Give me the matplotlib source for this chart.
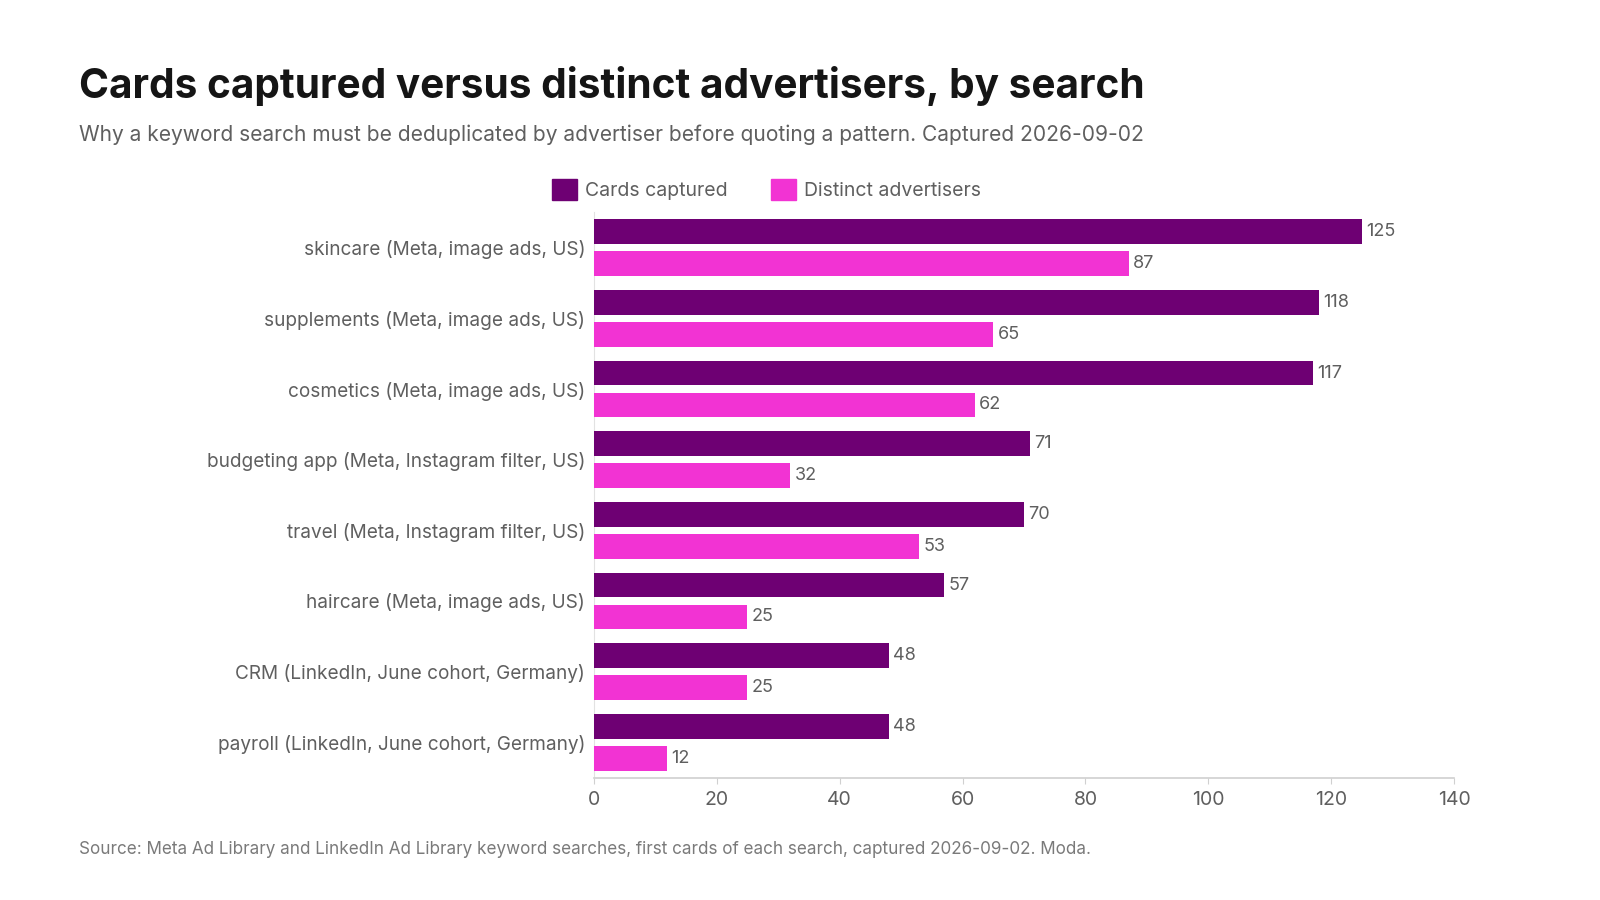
import numpy as np
import matplotlib.pyplot as plt
from matplotlib.patches import Patch

plt.rcParams['font.family'] = ['Inter', 'DejaVu Sans']

# ===== DATA =====
searches = [
    "skincare (Meta, image ads, US)",
    "supplements (Meta, image ads, US)",
    "cosmetics (Meta, image ads, US)",
    "budgeting app (Meta, Instagram filter, US)",
    "travel (Meta, Instagram filter, US)",
    "haircare (Meta, image ads, US)",
    "CRM (LinkedIn, June cohort, Germany)",
    "payroll (LinkedIn, June cohort, Germany)",
]
cards_captured = [125, 118, 117, 71, 70, 57, 48, 48]
distinct_advertisers = [87, 65, 62, 32, 53, 25, 25, 12]
x_ticks = [0, 20, 40, 60, 80, 100, 120, 140]

C_CARDS = "#6e0073"
C_DIST = "#f233d3"
GRAY = "#5f5f5f"

fig = plt.figure(figsize=(16, 9), dpi=100)
ax = fig.add_axes([0.371, 0.136, 0.538, 0.628])

y = np.arange(len(searches))
h = 0.35
off = 0.225

ax.barh(y - off, cards_captured, height=h, color=C_CARDS, zorder=3)
ax.barh(y + off, distinct_advertisers, height=h, color=C_DIST, zorder=3)

for yi, v in zip(y, cards_captured):
    ax.text(v + 0.7, yi - off, str(v), va="center", ha="left", fontsize=13, color=GRAY)
for yi, v in zip(y, distinct_advertisers):
    ax.text(v + 0.7, yi + off, str(v), va="center", ha="left", fontsize=13, color=GRAY)

ax.set_yticks(y)
ax.set_yticklabels(searches, fontsize=13.7, color=GRAY)
ax.set_ylim(len(searches) - 0.5, -0.5)
ax.set_xlim(0, 140)
ax.set_xticks(x_ticks)
ax.tick_params(axis="x", labelsize=14, labelcolor=GRAY, color="#d0d0d0", length=4, pad=6)
ax.tick_params(axis="y", length=0, pad=6)

for s in ["top", "right"]:
    ax.spines[s].set_visible(False)
ax.spines["left"].set_color("#e2e2e2")
ax.spines["bottom"].set_color("#d0d0d0")
ax.spines["bottom"].set_linewidth(1.2)

# ===== TEXT =====
fig.text(0.0495, 0.904, "Cards captured versus distinct advertisers, by search",
         fontsize=29.2, fontweight="bold", color="#151515", va="center", ha="left")
fig.text(0.0495, 0.850, "Why a keyword search must be deduplicated by advertiser before quoting a pattern. Captured 2026-09-02",
         fontsize=15.1, color=GRAY, va="center", ha="left")
fig.text(0.0495, 0.056, "Source: Meta Ad Library and LinkedIn Ad Library keyword searches, first cards of each search, captured 2026-09-02. Moda.",
         fontsize=12.3, color="#7a7a7a", va="center", ha="left")

handles = [Patch(color=C_CARDS, label="Cards captured"),
           Patch(color=C_DIST, label="Distinct advertisers")]
fig.legend(handles=handles, loc="center", bbox_to_anchor=(0.479, 0.789), ncol=2,
           frameon=False, fontsize=14, labelcolor=GRAY, handlelength=1.3, handleheight=1.3,
           handletextpad=0.4, columnspacing=2.2)

fig.savefig("out.png", dpi=100, facecolor="white")
